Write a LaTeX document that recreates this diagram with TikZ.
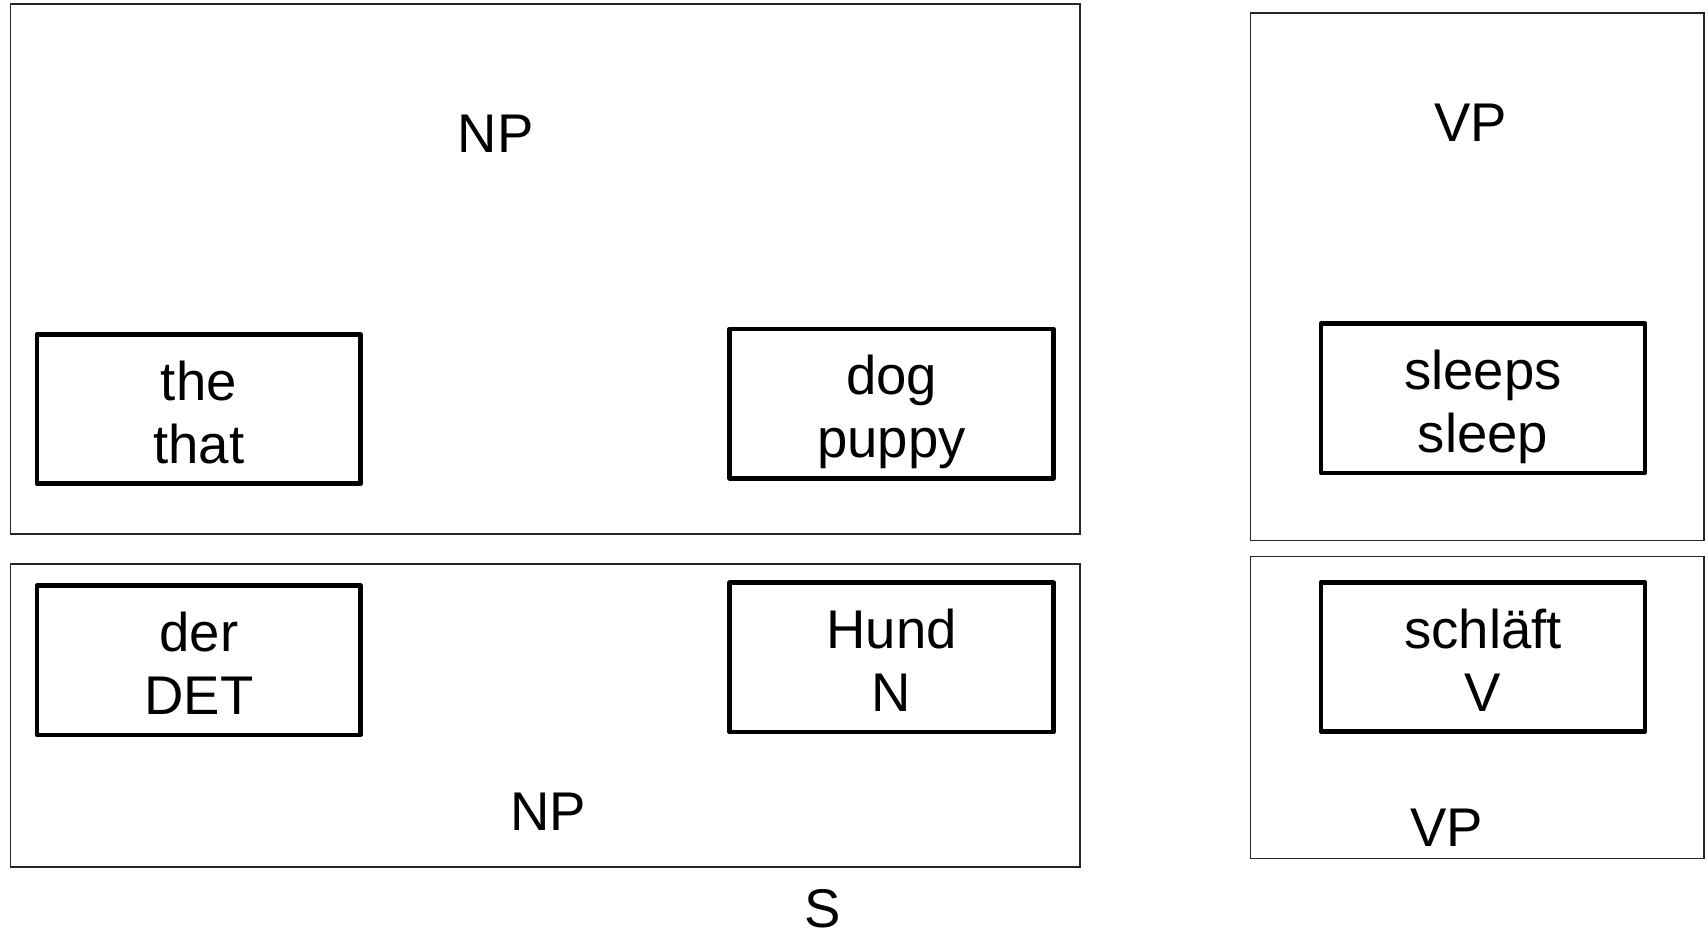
\documentclass[tikz,border=0pt]{standalone}
\usepackage{fontspec}
\setmainfont{Liberation Sans}
% two centred lines with a fixed outer height and depth, so descenders
% do not shift the text inside its box
\newcommand{\twolines}[2]{\rule{0pt}{13.4pt}#1\\\smash{#2}\rule[-0.5pt]{0pt}{0.5pt}}
\begin{document}
\begin{tikzpicture}[x=0.01cm,y=-0.01cm,
  txt/.style={font=\fontsize{15.5}{17.9}\selectfont},
  frame/.style={draw=black!85, line width=0.45pt, inner sep=0pt},
  word/.style={txt, draw, line width=1.3pt, line join=round, inner sep=0pt,
    minimum width=3.236cm, minimum height=1.492cm, align=center},
  lab/.style={txt, inner sep=0pt}]
\useasboundingbox (0,0) rectangle (1708,932);

% phrase frames
\node[frame, minimum width=10.686cm, minimum height=5.294cm] (npE) at (545.2,269.1) {};
\node[frame, minimum width=10.686cm, minimum height=3.027cm] (npD) at (545.2,715.7) {};
\node[frame, minimum width=4.532cm, minimum height=5.273cm] (vpE) at (1477.1,276.7) {};
\node[frame, minimum width=4.532cm, minimum height=3.018cm] (vpD) at (1477.1,707.5) {};

% word boxes
\node[word] (the)    at (198.8,409.0) {\twolines{the}{that}};
\node[word] (dog)    at (891.6,403.6) {\twolines{dog}{puppy}};
\node[word] (sleeps) at (1483.0,398.2) {\twolines{sleeps}{sleep}};
\node[word] (der)    at (198.8,660.2) {\twolines{der}{DET}};
\node[word] (hund)   at (891.6,657.4) {\twolines{Hund}{N}};
\node[word] (schl)   at (1483.0,656.9) {\twolines{schläft}{V}};

% category labels
\node[lab] (npEl) at (495.6,134.0) {NP};
\node[lab] (vpEl) at (1470.6,123.0) {VP};
\node[lab] (npDl) at (548.0,811.5) {NP};
\node[lab] (vpDl) at (1446.6,828.0) {VP};
\node[lab] (s)    at (822.4,908.5) {S};
\end{tikzpicture}
\end{document}
